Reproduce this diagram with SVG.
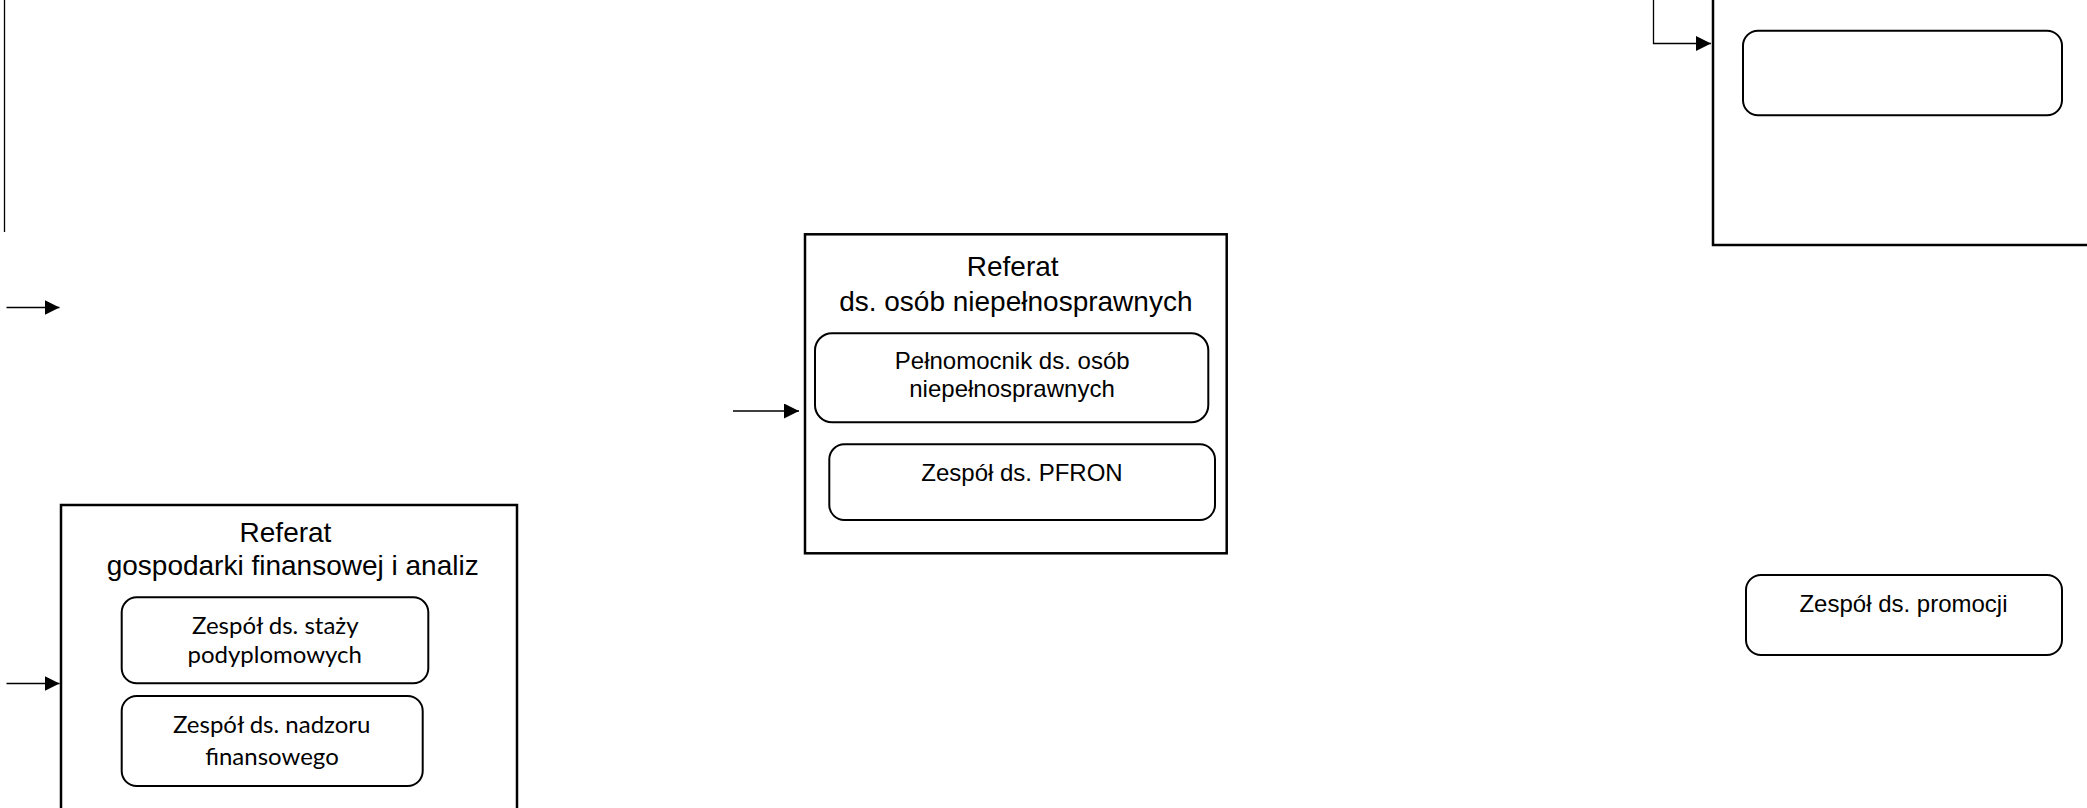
<svg xmlns="http://www.w3.org/2000/svg" width="2087" height="808" viewBox="0 0 2087 808">
<defs>
<style>
.outer{fill:#fff;stroke:#000;stroke-width:2.5}
.inner{fill:#fff;stroke:#000;stroke-width:2}
.conn{fill:none;stroke:#000;stroke-width:1.3}
.t{font-family:"Liberation Sans",Arial,sans-serif;font-size:28px;fill:#000;text-anchor:middle}
.s{font-family:"Liberation Sans",Arial,sans-serif;font-size:24px;fill:#000;text-anchor:middle}
.l{font-family:Lato,"Liberation Sans",sans-serif;font-size:24px;fill:#000;text-anchor:middle}
</style>
<marker id="arr" markerUnits="userSpaceOnUse" markerWidth="16" markerHeight="16" refX="15" refY="7.5" orient="auto" viewBox="0 0 16 16">
<path d="M0,0 L15,7.5 L0,15 Z" fill="#000"/>
</marker>
</defs>
<rect width="2087" height="808" fill="#fff"/>
<g id="connectors">
<line class="conn" x1="4.5" y1="0" x2="4.5" y2="232" stroke="#333"/>
<line class="conn" x1="6.5" y1="307.5" x2="59.5" y2="307.5" marker-end="url(#arr)"/>
<line class="conn" x1="6.5" y1="683.5" x2="59.5" y2="683.5" marker-end="url(#arr)"/>
<line class="conn" x1="733" y1="411" x2="799" y2="411" marker-end="url(#arr)"/>
<polyline class="conn" points="1653.5,0 1653.5,43.5 1711,43.5" marker-end="url(#arr)"/>
</g>
<g id="ref-finanse">
<rect class="outer" x="61" y="505" width="456" height="330"/>
<text class="t" x="285.5" y="541.7">Referat</text>
<text class="t" x="292.7" y="575">gospodarki finansowej i analiz</text>
</g>
<g id="zesp-staze">
<rect class="inner" x="121.7" y="597.3" width="306.6" height="86" rx="15"/>
<text class="l" x="275.3" y="634">Zespół ds. staży</text>
<text class="l" x="274.7" y="663.3">podyplomowych</text>
</g>
<g id="zesp-nadzor">
<rect class="inner" x="121.7" y="696" width="301" height="90" rx="15"/>
<text class="l" x="271.7" y="733.3">Zespół ds. nadzoru</text>
<text class="l" x="272" y="765">finansowego</text>
</g>
<g id="ref-niepelnosprawni">
<rect class="outer" x="805" y="234.3" width="421.7" height="319"/>
<text class="t" x="1012.7" y="275.7">Referat</text>
<text class="t" x="1015.8" y="310.7">ds. osób niepełnosprawnych</text>
</g>
<g id="pelnomocnik">
<rect class="inner" x="815" y="333.3" width="393.3" height="89" rx="17"/>
<text class="s" x="1012.2" y="369">Pełnomocnik ds. osób</text>
<text class="s" x="1012" y="397.3">niepełnosprawnych</text>
</g>
<g id="zesp-pfron">
<rect class="inner" x="829.3" y="444.3" width="385.7" height="75.7" rx="15"/>
<text class="s" x="1022" y="480.7">Zespół ds. PFRON</text>
</g>
<g id="ref-right">
<rect class="outer" x="1713" y="-10" width="400" height="255"/>
</g>
<g id="box-right-empty">
<rect class="inner" x="1743" y="30.7" width="319" height="84.6" rx="15"/>
</g>
<g id="zesp-promocja">
<rect class="inner" x="1746" y="575" width="316" height="80" rx="15"/>
<text class="s" x="1903.5" y="612">Zespół ds. promocji</text>
</g>
</svg>
